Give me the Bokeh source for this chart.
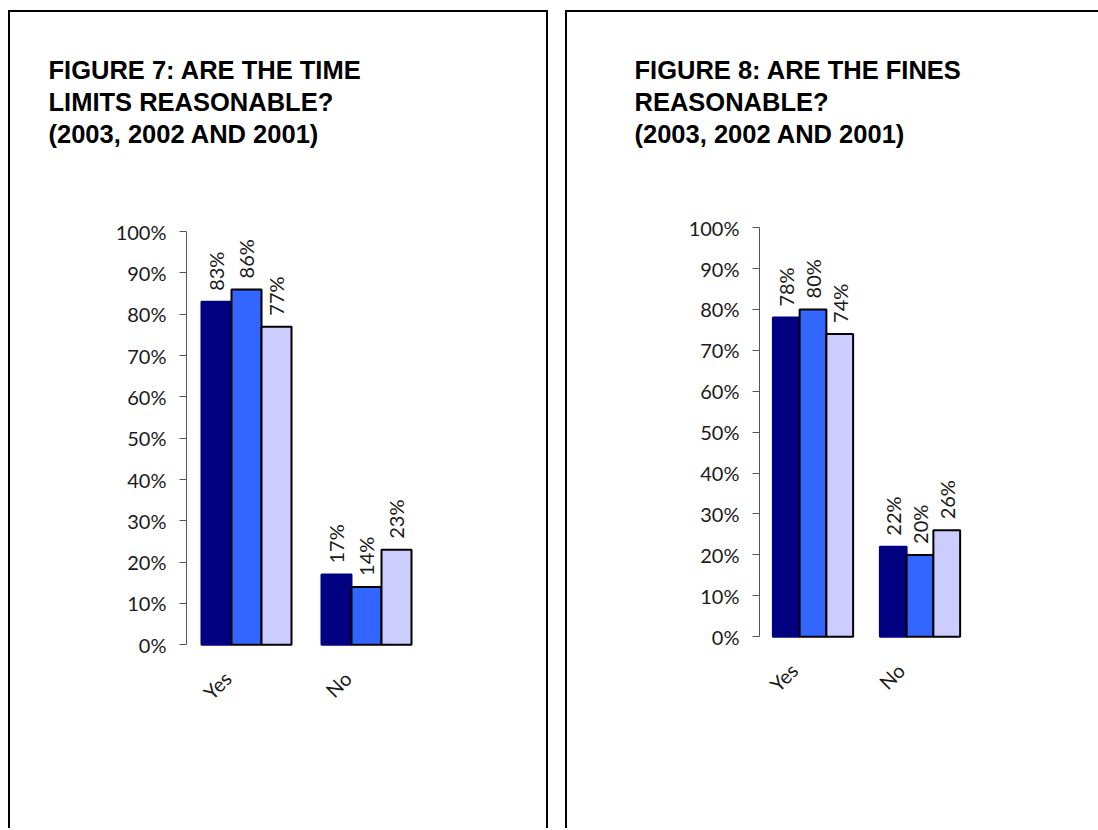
import math
from bokeh.plotting import figure
from bokeh.models import ColumnDataSource, FactorRange, Range1d, LabelSet, Title, FixedTicker
from bokeh.core.properties import value
from bokeh.layouts import row
from bokeh.transform import dodge
from bokeh.embed import file_html
from bokeh.resources import INLINE

answers = ["Yes", "No"]
years = ["2003", "2002", "2001"]

time_limits_2003 = [83, 17]
time_limits_2002 = [86, 14]
time_limits_2001 = [77, 23]

fines_2003 = [78, 22]
fines_2002 = [80, 20]
fines_2001 = [74, 26]

year_colors = ["#000080", "#3366FF", "#CCCCFF"]
year_outlines = ["#000080", "#000000", "#000000"]
y_ticks = list(range(0, 101, 10))

LABEL_FONT = "Lato"
TITLE_FONT = "Liberation Sans"
TEXT_COLOR = "#1a1a1a"


def survey_panel(title, series, width, left, frame_w, y_start, y_end, margin,
                 title_offset, right_border=True):
    p = figure(x_range=FactorRange(*answers, range_padding=0),
               y_range=Range1d(y_start, y_end),
               width=width, height=818, output_backend="svg", toolbar_location=None,
               min_border_left=left, min_border_right=width - left - frame_w,
               min_border_top=177, min_border_bottom=100)
    p.margin = margin
    border = {"border-top": "2px solid #000", "border-left": "2px solid #000"}
    if right_border:
        border["border-right"] = "2px solid #000"
    p.styles = border
    p.outline_line_color = None
    p.xgrid.grid_line_color = None
    p.ygrid.grid_line_color = None

    bar_w = 0.25
    offsets = [-bar_w, 0.0, bar_w]
    for yr, vals, col, edge, off in zip(years, series, year_colors, year_outlines, offsets):
        src = ColumnDataSource(dict(answer=answers, value=vals,
                                    label=[f"{v}%" for v in vals]))
        p.vbar(x=dodge("answer", off, range=p.x_range), top="value", width=bar_w,
               source=src, fill_color=col, line_color=edge, line_width=2)
        p.add_layout(LabelSet(x=dodge("answer", off, range=p.x_range), y="value",
                              text="label", source=src, angle=math.pi / 2,
                              text_align="left", text_baseline="middle", y_offset=11,
                              text_font=value(LABEL_FONT), text_font_size="20px",
                              text_color=TEXT_COLOR))

    # category names, slanted under each group of bars
    cat_src = ColumnDataSource(dict(answer=answers, base=[0] * len(answers)))
    p.add_layout(LabelSet(x="answer", y="base", text="answer", source=cat_src,
                          angle=math.pi / 4, text_align="right", text_baseline="middle",
                          x_offset=-19, y_offset=-30, text_font=value(LABEL_FONT),
                          text_font_size="20px", text_color=TEXT_COLOR))

    yax = p.yaxis[0]
    yax.bounds = (0, 100)
    yax.ticker = FixedTicker(ticks=y_ticks)
    yax.major_label_overrides = {t: f"{t}%" for t in y_ticks}
    yax.minor_tick_line_color = None
    yax.major_tick_in = 0
    yax.major_tick_out = 7
    yax.axis_line_color = "#555555"
    yax.major_tick_line_color = "#555555"
    yax.major_label_text_font = LABEL_FONT
    yax.major_label_text_font_size = "20px"
    yax.major_label_text_color = TEXT_COLOR
    yax.major_label_standoff = 13

    p.xaxis.visible = False

    p.add_layout(Title(text=title, align="left", offset=title_offset, standoff=82,
                       text_font=TITLE_FONT, text_font_style="bold",
                       text_font_size="25.5px", text_line_height=1.16,
                       text_color="#000000"), "above")
    return p


p1 = survey_panel("FIGURE 7: ARE THE TIME\nLIMITS REASONABLE?\n(2003, 2002 AND 2001)",
                  [time_limits_2003, time_limits_2002, time_limits_2001],
                  width=540, left=176, frame_w=240, y_start=-20.75, y_end=110.19,
                  margin=(10, 0, 0, 8), title_offset=-138)
p2 = survey_panel("FIGURE 8: ARE THE FINES\nREASONABLE?\n(2003, 2002 AND 2001)",
                  [fines_2003, fines_2002, fines_2001],
                  width=533, left=192, frame_w=214, y_start=-22.92, y_end=109.31,
                  margin=(10, 0, 0, 17), title_offset=-125, right_border=False)

layout = row(p1, p2)
open("out.html", "w").write(file_html(layout, INLINE))
